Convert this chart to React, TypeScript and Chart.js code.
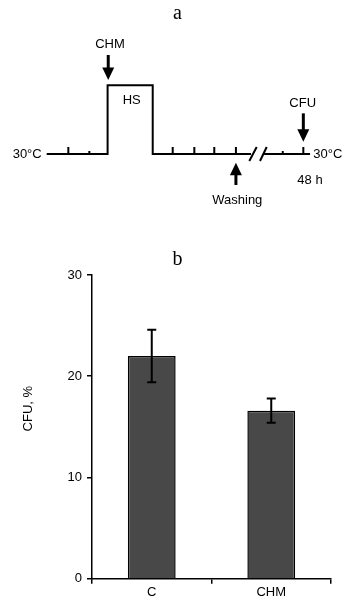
import React, { useEffect, useRef } from 'react';
import { Chart, registerables } from 'chart.js';

Chart.register(...registerables);

// ---------- Panel a: experimental protocol (abstract time units; level 0 = 30°C, level 1 = heat shock) ----------
const profileBeforeBreakX = [0, 2.9, 2.9, 5.048, 5.048, 9.73];
const profileBeforeBreakY = [0, 0, 1, 1, 0, 0];
const profileAfterBreakX = [10.35, 12.54];
const profileAfterBreakY = [0, 0];
const majorTickX = [1.03, 6.0, 7.03, 7.98, 9.01, 12.22];
const minorTickX = [2.03, 11.24];
const breakBottomX = [9.648, 10.157];
const breakTopX = [10.0, 10.476];
const arrowX = [2.93, 9.01, 12.22];
const arrowFromY = [1.441, -0.451, 0.592];
const arrowToY = [1.077, -0.127, 0.179];
const labelTexts = ['CHM', 'HS', 'CFU', 'Washing', '48 h', '30°C', '30°C'];
const labelX = [3.014, 4.048, 12.19, 9.076, 12.538, -0.238, 12.695];
const labelY = [1.601, 0.786, 0.738, -0.67, -0.378, 0, 0];
const labelAlign: CanvasTextAlign[] = ['center', 'center', 'center', 'center', 'center', 'right', 'left'];

// ---------- Panel b: CFU, % ----------
const categories = ['C', 'CHM'];
const cfuMean = [22.0, 16.6];
const cfuErr = [2.6, 1.2];
const yTicks = { min: 0, max: 30, step: 10 };

const SANS = '"Liberation Sans", Arial, Helvetica, sans-serif';
const SERIF = '"Liberation Serif", "Times New Roman", serif';

const protocolPlugin = {
  id: 'protocolPlugin',
  afterDatasetsDraw(chart: any) {
    const { ctx, scales } = chart;
    const xs = scales.x;
    const ys = scales.y;
    const px = (v: number) => xs.getPixelForValue(v);
    const py = (v: number) => ys.getPixelForValue(v);
    ctx.save();
    ctx.strokeStyle = '#000';
    ctx.fillStyle = '#000';
    ctx.lineCap = 'butt';
    // ticks
    ctx.lineWidth = 2;
    const y0 = py(0);
    majorTickX.forEach((t) => {
      ctx.beginPath();
      ctx.moveTo(px(t), y0);
      ctx.lineTo(px(t), y0 - 7);
      ctx.stroke();
    });
    minorTickX.forEach((t) => {
      ctx.beginPath();
      ctx.moveTo(px(t), y0);
      ctx.lineTo(px(t), y0 - 3);
      ctx.stroke();
    });
    // break marks
    breakBottomX.forEach((b, i) => {
      ctx.beginPath();
      ctx.moveTo(px(b), y0 + 7);
      ctx.lineTo(px(breakTopX[i]), y0 - 7);
      ctx.stroke();
    });
    // arrows
    arrowX.forEach((ax, i) => {
      const x = px(ax);
      const yFrom = py(arrowFromY[i]);
      const yTo = py(arrowToY[i]);
      const dir = yTo > yFrom ? 1 : -1;
      const headLen = 12.5;
      const headHalf = 6;
      ctx.lineWidth = 3;
      ctx.beginPath();
      ctx.moveTo(x, yFrom);
      ctx.lineTo(x, yTo - dir * (headLen - 1));
      ctx.stroke();
      ctx.beginPath();
      ctx.moveTo(x, yTo);
      ctx.lineTo(x - headHalf, yTo - dir * headLen);
      ctx.lineTo(x + headHalf, yTo - dir * headLen);
      ctx.closePath();
      ctx.fill();
    });
    // labels
    ctx.font = `13px ${SANS}`;
    ctx.textBaseline = 'middle';
    labelTexts.forEach((t, i) => {
      ctx.textAlign = labelAlign[i];
      ctx.fillText(t, px(labelX[i]), py(labelY[i]));
    });
    // panel letter
    ctx.font = `20px ${SERIF}`;
    ctx.textAlign = 'center';
    ctx.textBaseline = 'alphabetic';
    ctx.fillText('a', 177.5, 18.5);
    ctx.restore();
  },
};

const barExtrasPlugin = {
  id: 'barExtrasPlugin',
  afterDatasetsDraw(chart: any) {
    const { ctx, scales, chartArea } = chart;
    const xs = scales.x;
    const ys = scales.y;
    ctx.save();
    ctx.strokeStyle = '#000';
    ctx.lineWidth = 2;
    cfuMean.forEach((m, i) => {
      const x = xs.getPixelForValue(i);
      const yTop = ys.getPixelForValue(m + cfuErr[i]);
      const yBot = ys.getPixelForValue(m - cfuErr[i]);
      ctx.beginPath();
      ctx.moveTo(x, yTop);
      ctx.lineTo(x, yBot);
      ctx.moveTo(x - 4.5, yTop);
      ctx.lineTo(x + 4.5, yTop);
      ctx.moveTo(x - 4.5, yBot);
      ctx.lineTo(x + 4.5, yBot);
      ctx.stroke();
    });
    // y-axis title
    ctx.fillStyle = '#000';
    ctx.font = `13px ${SANS}`;
    ctx.textAlign = 'center';
    ctx.textBaseline = 'middle';
    ctx.translate(28, chartArea.top + (chartArea.bottom - chartArea.top) * 0.44);
    ctx.rotate(-Math.PI / 2);
    ctx.fillText('CFU, %', 0, 0);
    ctx.restore();
    // panel letter
    ctx.save();
    ctx.fillStyle = '#000';
    ctx.font = `20px ${SERIF}`;
    ctx.textAlign = 'center';
    ctx.textBaseline = 'alphabetic';
    ctx.fillText('b', 177.5, 44.5);
    ctx.restore();
  },
};

export default function App() {
  const refA = useRef<HTMLCanvasElement>(null);
  const refB = useRef<HTMLCanvasElement>(null);

  useEffect(() => {
    const chartA = new Chart(refA.current as HTMLCanvasElement, {
      type: 'scatter',
      data: {
        datasets: [
          {
            data: profileBeforeBreakX.map((x, i) => ({ x, y: profileBeforeBreakY[i] })),
            showLine: true,
            borderColor: '#000',
            borderWidth: 2,
            pointRadius: 0,
            tension: 0,
            borderJoinStyle: 'miter',
          },
          {
            data: profileAfterBreakX.map((x, i) => ({ x, y: profileAfterBreakY[i] })),
            showLine: true,
            borderColor: '#000',
            borderWidth: 2,
            pointRadius: 0,
            tension: 0,
          },
        ],
      } as any,
      options: {
        animation: false,
        responsive: false,
        devicePixelRatio: 1,
        layout: { padding: 0 },
        scales: {
          x: { type: 'linear', display: false, min: -2.2238, max: 14.871 },
          y: { type: 'linear', display: false, min: -0.9607, max: 2.2416 },
        },
        plugins: { legend: { display: false }, tooltip: { enabled: false } },
      } as any,
      plugins: [protocolPlugin],
    });

    const chartB = new Chart(refB.current as HTMLCanvasElement, {
      type: 'bar',
      data: {
        labels: categories,
        datasets: [
          {
            data: cfuMean,
            backgroundColor: '#484848',
            borderColor: '#000',
            borderWidth: 1.5,
            barPercentage: 0.4,
            categoryPercentage: 1,
          },
        ],
      },
      options: {
        animation: false,
        responsive: false,
        devicePixelRatio: 1,
        layout: { padding: { top: 55, right: 28, left: 0, bottom: 0 } },
        scales: {
          x: {
            grid: {
              offset: true,
              drawOnChartArea: false,
              drawTicks: true,
              tickLength: 5,
              color: '#000',
              lineWidth: 1.5,
            },
            border: { display: true, color: '#000', width: 1.5 },
            ticks: { color: '#000', font: { family: SANS, size: 13 }, padding: 1 },
            afterFit: (s: any) => {
              s.height = 29.3;
            },
          },
          y: {
            min: yTicks.min,
            max: yTicks.max,
            ticks: { stepSize: yTicks.step, color: '#000', font: { family: SANS, size: 13 }, padding: 5 },
            grid: {
              drawOnChartArea: false,
              drawTicks: true,
              tickLength: 5,
              color: '#000',
              lineWidth: 1.5,
            },
            border: { display: true, color: '#000', width: 1.5 },
            afterFit: (s: any) => {
              s.width = 92;
            },
          },
        },
        plugins: { legend: { display: false }, tooltip: { enabled: false } },
      } as any,
      plugins: [barExtrasPlugin],
    });

    return () => {
      chartA.destroy();
      chartB.destroy();
    };
  }, []);

  return (
    <div style={{ position: 'absolute', left: 0, top: 0, width: 359, height: 608, background: '#fff' }}>
      <canvas ref={refA} width={359} height={220} style={{ position: 'absolute', left: 0, top: 0, width: 359, height: 220 }} />
      <canvas ref={refB} width={359} height={388} style={{ position: 'absolute', left: 0, top: 220, width: 359, height: 388 }} />
    </div>
  );
}
